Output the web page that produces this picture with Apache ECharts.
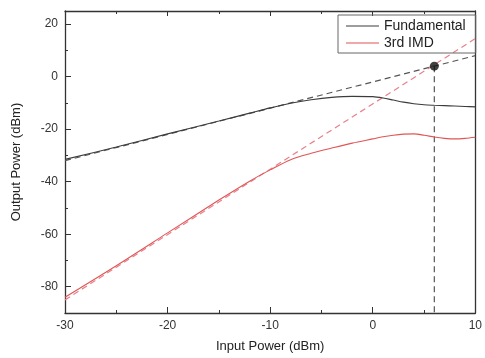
<!DOCTYPE html>
<html>
<head>
<meta charset="utf-8">
<script src="https://cdn.jsdelivr.net/npm/echarts@6/dist/echarts.min.js"></script>
<style>html,body{margin:0;padding:0;background:#fff}#c{width:485px;height:358px}</style>
</head>
<body>
<div id="c"></div>
<script>
// Input power grid (dBm)
const inputPower = [-30,-25,-20,-15,-12,-10,-8,-6,-4,-2,0,1,2,3,4,5,6,7,8,9,10];
// Measured output powers (dBm)
const fundamental = [-31.5,-26.8,-21.8,-16.9,-13.9,-11.9,-10.1,-8.8,-7.9,-7.5,-7.6,-8.1,-8.9,-9.7,-10.3,-10.7,-10.9,-11.05,-11.2,-11.35,-11.5];
const imd3 = [-84,-72,-59.5,-47,-39.8,-35.5,-31.6,-29.2,-27.2,-25.3,-23.7,-22.9,-22.3,-21.9,-21.8,-22.3,-23.0,-23.5,-23.7,-23.5,-23.1];
// Extrapolated (linear) lines
const fundExtrapX = [-30, 10];
const fundExtrapY = [-32, 8];
const imdExtrapX = [-30, 10];
const imdExtrapY = [-85, 14.5];
// Intercept point
const interceptX = 6;
const interceptY = 4;
// Axes
const xTicks = [-30,-20,-10,0,10];
const yTicks = [-80,-60,-40,-20,0,20];
const yMinorTicks = [-70,-50,-30,-10,10];

const zip = (xs, ys) => xs.map((x, i) => [x, ys[i]]);
const FONT = 'Liberation Sans, Arial, sans-serif';
const AX = '#333';
const LINE_ICON = 'path://M0,0 L33,0 L33,1.2 L0,1.2 Z';

const chart = echarts.init(document.getElementById('c'), null, {renderer: 'canvas'});
chart.setOption({
  animation: false,
  backgroundColor: '#fff',
  textStyle: {fontFamily: FONT},
  grid: {left: 65, right: 4, top: 11, bottom: 41, containLabel: false},
  legend: {
    left: 338, top: 15, orient: 'vertical',
    data: [{name: 'Fundamental', icon: LINE_ICON}, {name: '3rd IMD', icon: LINE_ICON}],
    itemWidth: 33, itemHeight: 14, itemGap: 3,
    padding: [4, 10, 3, 8],
    borderColor: '#666', borderWidth: 1,
    textStyle: {fontSize: 14, color: '#222', fontFamily: FONT}
  },
  xAxis: [{
    type: 'value', min: -30, max: 10, interval: 10,
    name: 'Input Power (dBm)', nameLocation: 'middle', nameGap: 27,
    nameTextStyle: {fontSize: 13, color: '#222', fontFamily: FONT},
    axisLine: {show: true, onZero: false, lineStyle: {color: AX, width: 1.3}},
    axisTick: {show: true, inside: true, length: 6, lineStyle: {color: AX}},
    minorTick: {show: true, splitNumber: 2, length: 3, lineStyle: {color: AX}},
    axisLabel: {fontSize: 12, color: '#333', margin: 7, fontFamily: FONT},
    splitLine: {show: false}
  }, {
    type: 'value', min: -30, max: 10, interval: 10, position: 'top',
    axisLine: {show: true, onZero: false, lineStyle: {color: AX, width: 1.3}},
    axisTick: {show: true, inside: true, length: 5, lineStyle: {color: AX}},
    minorTick: {show: true, splitNumber: 2, length: 3, lineStyle: {color: AX}},
    axisLabel: {show: false}, splitLine: {show: false}
  }],
  yAxis: [{
    type: 'value', min: -90, max: 25,
    name: 'Output Power (dBm)', nameLocation: 'middle', nameGap: 42,
    nameTextStyle: {fontSize: 13, color: '#222', fontFamily: FONT},
    axisLine: {show: true, onZero: false, lineStyle: {color: AX, width: 1.3}},
    axisTick: {show: true, inside: true, length: 6, customValues: yTicks, lineStyle: {color: AX}},
    axisLabel: {fontSize: 12, color: '#333', margin: 7, customValues: yTicks, fontFamily: FONT},
    splitLine: {show: false}
  }, {
    type: 'value', min: -90, max: 25, position: 'left',
    axisLine: {show: false, onZero: false},
    axisTick: {show: true, inside: true, length: 3, customValues: yMinorTicks, lineStyle: {color: AX}},
    axisLabel: {show: false}, splitLine: {show: false}
  }, {
    type: 'value', min: -90, max: 25, position: 'right',
    axisLine: {show: true, onZero: false, lineStyle: {color: AX, width: 1.3}},
    axisTick: {show: false}, axisLabel: {show: false}, splitLine: {show: false}
  }],
  series: [
    {name: 'Fundamental', type: 'line', data: zip(inputPower, fundamental), smooth: 0.3,
     symbol: 'none', lineStyle: {color: '#3c3c3c', width: 1.1}, itemStyle: {color: '#3c3c3c'}, z: 3},
    {name: '3rd IMD', type: 'line', data: zip(inputPower, imd3), smooth: 0.3,
     symbol: 'none', lineStyle: {color: '#e05555', width: 1.1}, itemStyle: {color: '#e05555'}, z: 3},
    {name: 'fundExtrap', type: 'line', data: zip(fundExtrapX, fundExtrapY), symbol: 'none',
     lineStyle: {color: '#555', width: 1.2, type: [6, 4]}, z: 2},
    {name: 'imdExtrap', type: 'line', data: zip(imdExtrapX, imdExtrapY), symbol: 'none',
     lineStyle: {color: '#e8808c', width: 1.2, type: [6, 4]}, z: 2},
    {name: 'vline', type: 'line', data: [[interceptX, interceptY], [interceptX, -90]], symbol: 'none',
     lineStyle: {color: '#444', width: 1.1, type: [6, 4]}, z: 2},
    {name: 'ip3', type: 'scatter', data: [[interceptX, interceptY]], symbolSize: 9,
     itemStyle: {color: '#111'}, z: 5}
  ]
});
</script>
</body>
</html>
